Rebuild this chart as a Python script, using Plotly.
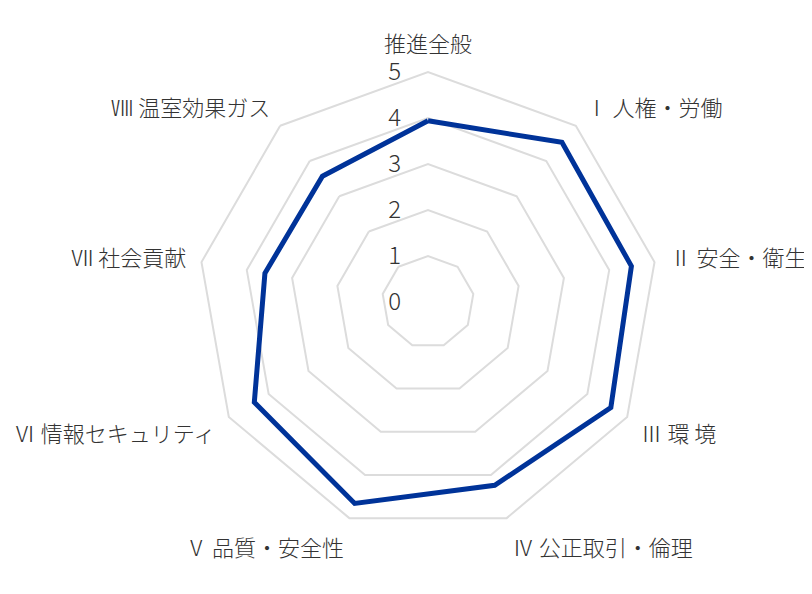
import plotly.graph_objects as go

categories = ["推進全般", "Ⅰ 人権・労働", "Ⅱ 安全・衛生", "Ⅲ 環 境", "Ⅳ 公正取引・倫理",
              "Ⅴ 品質・安全性", "Ⅵ 情報セキュリティ", "Ⅶ 社会貢献", "Ⅷ 温室効果ガス"]
values = [3.94, 4.53, 4.49, 4.59, 4.24, 4.66, 4.36, 3.6, 3.57]
radial_ticks = [0, 1, 2, 3, 4, 5]

FONT = "Noto Sans CJK JP"

fig = go.Figure()
fig.add_trace(go.Scatterpolar(
    r=values + values[:1],
    theta=categories + categories[:1],
    mode="lines",
    line=dict(color="#003399", width=5),
    hoverinfo="skip",
    showlegend=False,
))

fig.update_layout(
    width=812, height=594,
    margin=dict(l=190, r=162, t=64, b=70),
    paper_bgcolor="white",
    font=dict(family=FONT, size=24, color="#333333"),
    polar=dict(
        bgcolor="white",
        gridshape="linear",
        radialaxis=dict(
            range=[0, 5],
            tickvals=radial_ticks,
            angle=90,
            tickangle=90,
            side="counterclockwise",
            showline=False,
            gridcolor="#dcdcdc",
            gridwidth=2,
            ticks="outside",
            ticklen=18,
            tickcolor="rgba(0,0,0,0)",
            tickfont=dict(family=FONT, size=24, color="#333333", weight=300),
        ),
        angularaxis=dict(
            rotation=90,
            direction="clockwise",
            showgrid=False,
            showline=True,
            linecolor="#dcdcdc",
            linewidth=2,
            ticks="outside",
            ticklen=10,
            tickcolor="rgba(0,0,0,0)",
            tickfont=dict(family=FONT, size=22, color="#333333", weight=300),
        ),
    ),
)

fig.write_html("out.html")
